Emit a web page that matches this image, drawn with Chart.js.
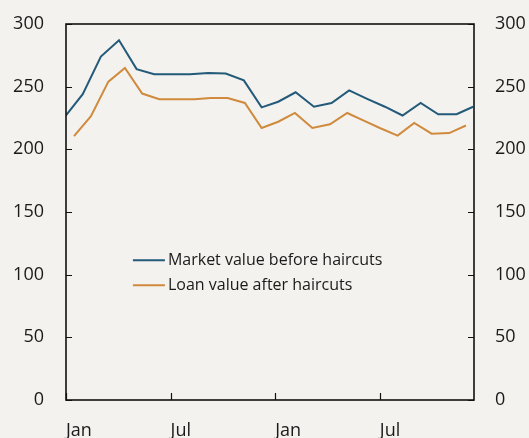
<!DOCTYPE html>
<html>
<head>
<meta charset="utf-8">
<script src="https://cdn.jsdelivr.net/npm/chart.js@4/dist/chart.umd.min.js"></script>
<style>
  html, body { margin: 0; padding: 0; background: #f4f2ee; }
  #wrap { width: 529px; height: 438px; }
</style>
</head>
<body>
<div id="wrap"><canvas id="myChart" width="529" height="438"></canvas></div>
<script>
// Month positions (0 = first Jan) and values
const marketMonths = [0, 0.96, 2.0, 3.04, 4.05, 5.06, 6.02, 7.11, 8.16, 9.16, 10.2, 11.22,
    12.17, 13.17, 14.22, 15.23, 16.24, 17.24, 18.29, 19.3, 20.34, 21.35, 22.4, 23.35];
const marketValues = [227, 244, 274, 287, 264, 260, 260, 260, 261, 260.5, 255, 233.5,
    238, 245.5, 234, 237, 247, 240.5, 234, 227, 237, 228, 228, 234];

const loanMonths = [0.46, 1.43, 2.43, 3.38, 4.37, 5.35, 6.35, 7.36, 8.3, 9.27, 10.26, 11.22,
    12.17, 13.13, 14.13, 15.14, 16.13, 17.14, 18.0, 19.02, 19.97, 20.97, 21.98, 22.94];
const loanValues = [210.5, 226.5, 254, 265, 244.5, 240, 240, 240, 241, 241, 237, 217,
    222, 229, 217, 220, 229, 222.5, 217, 211, 221, 212.5, 213, 219];

const xTickMonths = [0, 6, 12, 18];
const xTickLabels = ['Jan', 'Jul', 'Jan', 'Jul'];
const yTicks = [0, 50, 100, 150, 200, 250, 300];

const seriesLabels = ['Market value before haircuts', 'Loan value after haircuts'];
const blue = '#235a79';
const orange = '#cf8a3e';
const fontFamily = '"Open Sans", sans-serif';

function toPoints(xs, ys) {
    return xs.map((x, i) => ({ x: x, y: ys[i] }));
}

// Frame, inward tick marks and the legend inside the plot
const framePlugin = {
    id: 'frame',
    afterDraw(chart) {
        const ctx = chart.ctx;
        const a = chart.chartArea;
        const xs = chart.scales.x;
        const yl = chart.scales.y;
        ctx.save();
        ctx.strokeStyle = '#111';
        ctx.lineWidth = 1.6;
        ctx.strokeRect(a.left, a.top, a.right - a.left, a.bottom - a.top);

        ctx.lineWidth = 1.2;
        ctx.beginPath();
        yTicks.forEach(v => {
            const y = Math.round(yl.getPixelForValue(v)) + 0.5;
            ctx.moveTo(a.left, y); ctx.lineTo(a.left + 6, y);
            ctx.moveTo(a.right, y); ctx.lineTo(a.right - 6, y);
        });
        xTickMonths.forEach(m => {
            const x = Math.round(xs.getPixelForValue(m)) + 0.5;
            ctx.moveTo(x, a.bottom); ctx.lineTo(x, a.bottom - 7);
        });
        ctx.stroke();

        // legend
        const lx = a.left + (a.right - a.left) * 0.164;
        let ly = a.top + (a.bottom - a.top) * 0.628;
        ctx.font = '16px ' + fontFamily;
        ctx.textBaseline = 'middle';
        ctx.fillStyle = '#1a1a1a';
        chart.data.datasets.forEach(ds => {
            ctx.strokeStyle = ds.borderColor;
            ctx.lineWidth = 2;
            ctx.beginPath();
            ctx.moveTo(lx, ly); ctx.lineTo(lx + 32, ly);
            ctx.stroke();
            ctx.fillText(ds.label, lx + 35, ly);
            ly += 25;
        });
        ctx.restore();
    }
};

function fitY(width) {
    return scale => {
        scale.width = width;
        scale.paddingTop = 0;
        scale.paddingBottom = 0;
    };
}

const ctx = document.getElementById('myChart').getContext('2d');
new Chart(ctx, {
    type: 'line',
    data: {
        datasets: [{
            label: seriesLabels[0],
            data: toPoints(marketMonths, marketValues),
            borderColor: blue,
            borderWidth: 2,
            pointRadius: 0,
            tension: 0
        }, {
            label: seriesLabels[1],
            data: toPoints(loanMonths, loanValues),
            borderColor: orange,
            borderWidth: 2,
            pointRadius: 0,
            tension: 0
        }]
    },
    options: {
        responsive: false,
        animation: false,
        layout: { padding: { top: 24, left: 0, right: 0, bottom: 0 } },
        plugins: {
            legend: { display: false },
            tooltip: { enabled: false }
        },
        scales: {
            x: {
                type: 'linear',
                min: 0,
                max: 23.4,
                grid: { display: false, drawTicks: false },
                border: { display: false },
                afterBuildTicks: scale => {
                    scale.ticks = xTickMonths.map(m => ({ value: m }));
                },
                afterFit: scale => {
                    scale.height = 38;
                    scale.paddingLeft = 0;
                    scale.paddingRight = 0;
                },
                ticks: {
                    align: 'start',
                    maxRotation: 0,
                    autoSkip: false,
                    padding: 20,
                    color: '#1a1a1a',
                    font: { family: fontFamily, size: 18 },
                    callback: (v, i) => xTickLabels[i]
                }
            },
            y: {
                position: 'left',
                min: 0,
                max: 300,
                grid: { display: false, drawTicks: false },
                border: { display: false },
                afterBuildTicks: scale => {
                    scale.ticks = yTicks.map(v => ({ value: v }));
                },
                afterFit: fitY(66),
                ticks: {
                    padding: 22,
                    color: '#1a1a1a',
                    font: { family: fontFamily, size: 18 }
                }
            },
            y2: {
                position: 'right',
                min: 0,
                max: 300,
                grid: { display: false, drawTicks: false },
                border: { display: false },
                afterBuildTicks: scale => {
                    scale.ticks = yTicks.map(v => ({ value: v }));
                },
                afterFit: fitY(55),
                ticks: {
                    padding: 21,
                    color: '#1a1a1a',
                    font: { family: fontFamily, size: 18 }
                }
            }
        }
    },
    plugins: [framePlugin]
});
</script>
</body>
</html>
